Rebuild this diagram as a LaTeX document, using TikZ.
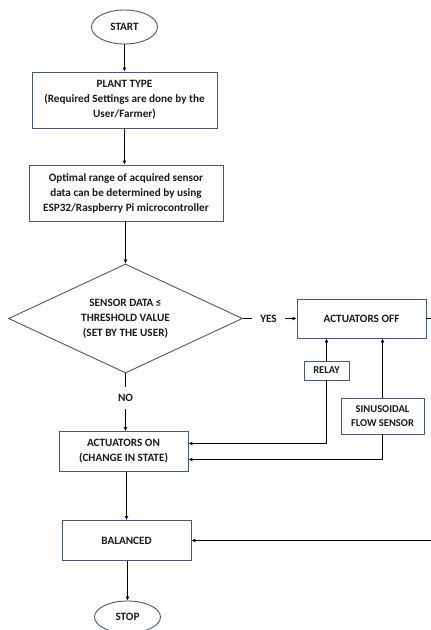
\documentclass[tikz,border=0pt]{standalone}
\usepackage{fontspec}
\setmainfont{Carlito}
\usetikzlibrary{shapes.geometric,arrows.meta}
\definecolor{boxc}{HTML}{3F5B85}
\definecolor{txt}{HTML}{1A1A1A}
\tikzset{
  base/.style={draw=boxc, line width=0.9pt, inner sep=0pt, align=center, text=txt,
    font=\fontsize{11.2}{15}\selectfont\bfseries},
  boxn/.style={base, rectangle},
  term/.style={base, ellipse},
  dia/.style={base, diamond},
  lbl/.style={inner sep=0pt, text=txt, font=\fontsize{11.2}{15}\selectfont\bfseries},
  arr/.style={line width=1.1pt, black, -{Latex[length=4pt,width=4pt]}},
  ln/.style={line width=1.1pt, black},
}
\begin{document}
\begin{tikzpicture}[x=1pt,y=-1pt]
\clip (0,0) rectangle (431,630);
\fill[white] (0,0) rectangle (431,630);
\node[term, minimum width=66pt, minimum height=34pt] (start) at (124.5,27) {START};
\node[boxn, minimum width=185pt, minimum height=56pt] (plant) at (124.5,100) {PLANT TYPE\\(Required Settings are done by the\\User/Farmer)};
\node[boxn, minimum width=194pt, minimum height=56pt] (opt) at (126,193) {Optimal range of acquired sensor\\data can be determined by using\\ESP32/Raspberry Pi microcontroller};
\node[dia, minimum width=234pt, minimum height=109pt] (d) at (125.5,318.5) {};
\node[lbl, align=center] (dt) at (d.center) {SENSOR DATA ≤\\THRESHOLD VALUE\\(SET BY THE USER)};
\node[boxn, minimum width=129pt, minimum height=39pt] (off) at (361.5,318.5) {ACTUATORS OFF};
\node[boxn, minimum width=45pt, minimum height=19pt, font=\fontsize{10.5}{14}\selectfont\bfseries] (relay) at (326.5,370.5) {RELAY};
\node[boxn, minimum width=83pt, minimum height=36pt, font=\fontsize{10.5}{14}\selectfont\bfseries] (sensor) at (382.5,416) {SINUSOIDAL\\FLOW SENSOR};
\node[boxn, minimum width=129pt, minimum height=40pt] (on) at (123.5,451.5) {ACTUATORS ON\\(CHANGE IN STATE)};
\node[boxn, minimum width=129pt, minimum height=40pt] (bal) at (126.5,540.5) {BALANCED};
\node[term, minimum width=66pt, minimum height=32pt] (stop) at (127.5,617) {STOP};
\node[lbl, minimum width=33pt, minimum height=8pt] (yes) at (268.5,318.5) {YES};
\node[lbl, minimum width=10pt, minimum height=22pt] (no) at (125.5,398) {NO};
\coordinate (r1) at (431,318.5);
\coordinate (r2) at (431,540.5);
\draw[arr] (start.south) -- (plant.north);
\draw[arr] (plant.south) -- (plant.south |- opt.north);
\draw[arr] (d.north |- opt.south) -- (d.north);
\draw[ln] (d.east) -- (yes.west);
\draw[arr] (yes.east) -- (off.west);
\draw[ln] (d.south) -- (no.north);
\draw[arr] (no.south) -- (no.south |- on.north);
\draw[arr] (relay.north) -- (relay.north |- off.south);
\draw[arr] (sensor.north) -- (sensor.north |- off.south);
\draw[arr] (relay.south) |- ([yshift=8pt]on.east);
\draw[arr] (sensor.south) |- ([yshift=-8pt]on.east);
\draw[ln] (off.east) -- (r1);
\draw[arr] (bal.north |- on.south) -- (bal.north);
\draw[arr] (r2) -- (bal.east);
\draw[arr] (stop.north |- bal.south) -- (stop.north);
\end{tikzpicture}
\end{document}
